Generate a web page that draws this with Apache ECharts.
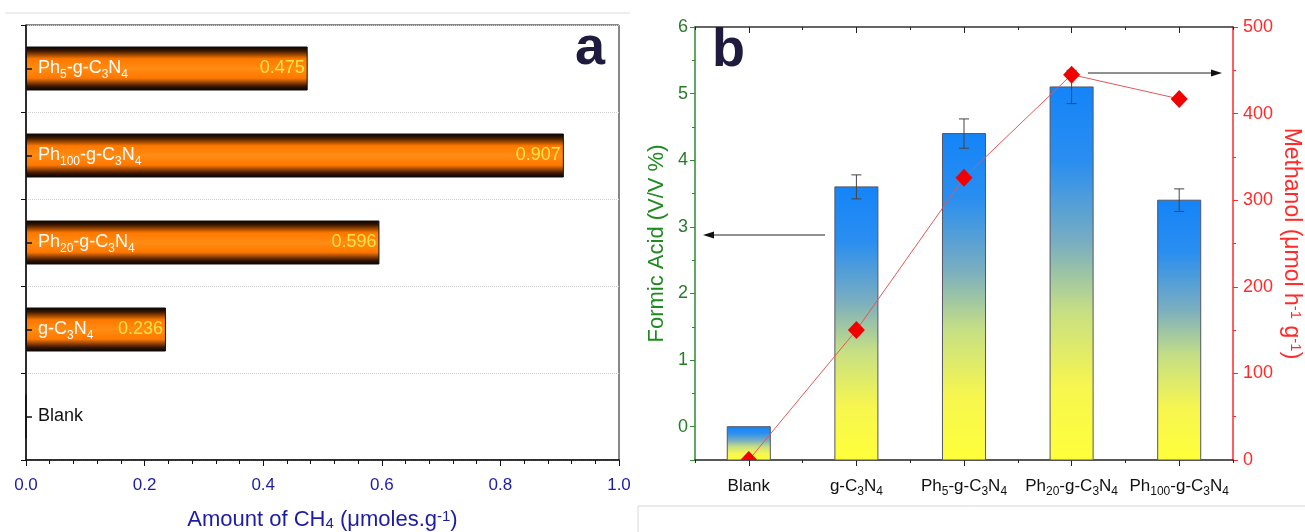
<!DOCTYPE html>
<html><head><meta charset="utf-8">
<script src="https://cdn.jsdelivr.net/npm/echarts@6/dist/echarts.min.js"></script>
<style>html,body{margin:0;padding:0;background:#fff}#c{width:1305px;height:532px}</style>
</head><body><div id="c"></div>
<script>
// ---------- data ----------
const catsA = ['Blank', 'g-C3N4', 'Ph20-g-C3N4', 'Ph100-g-C3N4', 'Ph5-g-C3N4'];
const ch4 = [0, 0.236, 0.596, 0.907, 0.475];
const ch4Range = [0, 1];
const ch4Step = 0.2;

const catsB = ['Blank', 'g-C3N4', 'Ph5-g-C3N4', 'Ph20-g-C3N4', 'Ph100-g-C3N4'];
const formic = [0, 3.6, 4.4, 5.1, 3.4];
const formicErr = [0, 0.18, 0.22, 0.25, 0.17];
const methanol = [0, 150, 326, 445, 417];
const formicRange = [-0.5, 6];
const methanolRange = [0, 500];
const methanolStep = 100;

// ---------- helpers ----------
function richName(name, main, sub) {
  return name.split(/(\d+)/).filter(s => s !== '').map(s =>
    /^\d+$/.test(s) ? '{' + sub + '|' + s + '}' : '{' + main + '|' + s + '}').join('');
}
const FONT = 'Liberation Sans, Arial, Helvetica, sans-serif';
function mainStyle(color, size) { return { color, fontSize: size, fontFamily: FONT, lineHeight: 24 }; }
function subStyle(color, size) { return { color, fontSize: size, fontFamily: FONT, lineHeight: 12, verticalAlign: 'bottom' }; }
function supStyle(color, size) { return { color, fontSize: size, fontFamily: FONT, lineHeight: 12, verticalAlign: 'top' }; }

function arrow(x1, y1, x2, y2) {
  const dir = Math.sign(x2 - x1);
  return [
    { type: 'line', shape: { x1, y1, x2: x2 - dir * 8, y2 }, style: { stroke: '#222', lineWidth: 1 }, z: 50 },
    { type: 'polygon', shape: { points: [[x2, y2], [x2 - dir * 11, y2 - 3.5], [x2 - dir * 11, y2 + 3.5]] }, style: { fill: '#111' }, z: 50 }
  ];
}

const blueText = '#1c1ca6';
const green = '#2e8b2e';
const greenText = '#2a7a2a';
const red = '#ff2a2a';

const orangeGrad = new echarts.graphic.LinearGradient(0, 0, 0, 1, [
  { offset: 0, color: '#000000' },
  { offset: 0.1, color: '#3d1800' },
  { offset: 0.28, color: '#ff7800' },
  { offset: 0.5, color: '#ff8c14' },
  { offset: 0.72, color: '#ff7800' },
  { offset: 0.9, color: '#3d1800' },
  { offset: 1, color: '#000000' }
]);

const chart = echarts.init(document.getElementById('c'));
const option = {
  backgroundColor: '#fff',
  animation: false,
  grid: [
    { left: 26, top: 25, width: 593, height: 435, containLabel: false, outerBoundsMode: 'none', show: true, borderColor: '#111', borderWidth: 1, backgroundColor: 'transparent' },
    { left: 695, top: 27, width: 538, height: 433, containLabel: false, outerBoundsMode: 'none' }
  ],
  xAxis: [
    {
      gridIndex: 0, type: 'value', min: ch4Range[0], max: ch4Range[1], interval: ch4Step,
      axisLine: { show: true, onZero: false, lineStyle: { color: '#111', width: 1.5 } },
      axisTick: { show: true, length: 6, lineStyle: { color: '#111' } },
      minorTick: { show: true, splitNumber: 5, length: 4, lineStyle: { color: '#111' } },
      splitLine: { show: false },
      axisLabel: { color: blueText, fontSize: 17, fontFamily: FONT, margin: 17, formatter: v => v.toFixed(1) },
      name: 'Amount of CH{s|4} (μmoles.g{p|-1})', nameLocation: 'middle', nameGap: 49,
      nameTextStyle: {
        color: blueText, fontSize: 22, fontFamily: FONT,
        rich: { s: subStyle(blueText, 15), p: supStyle(blueText, 15) }
      }
    },
    {
      gridIndex: 1, type: 'category', data: catsB, position: 'bottom',
      axisLine: { show: true, onZero: false, lineStyle: { color: '#222', width: 1.5 } },
      axisTick: { show: true, alignWithLabel: true, length: 6, lineStyle: { color: '#222' } },
      axisLabel: {
        margin: 14, interval: 0,
        formatter: v => richName(v, 'm', 's'),
        rich: { m: mainStyle('#111', 17), s: subStyle('#111', 12) }
      }
    },
    {
      gridIndex: 1, type: 'category', data: catsB, position: 'bottom',
      axisLine: { show: false, onZero: false },
      axisTick: { show: true, length: 3, lineStyle: { color: '#222' } },
      axisLabel: { show: false }
    },
    {
      gridIndex: 1, type: 'category', data: catsB, position: 'top',
      axisLine: { show: true, onZero: false, lineStyle: { color: '#333', width: 1.5 } },
      axisTick: { show: true, alignWithLabel: true, inside: true, length: 6, lineStyle: { color: '#222' } },
      axisLabel: { show: false }
    },
    {
      gridIndex: 1, type: 'category', data: catsB, position: 'top',
      axisLine: { show: false, onZero: false },
      axisTick: { show: true, inside: true, length: 3, lineStyle: { color: '#222' } },
      axisLabel: { show: false }
    }
  ],
  yAxis: [
    {
      gridIndex: 0, type: 'category', data: catsA, position: 'left',
      axisLine: { show: true, onZero: false, lineStyle: { color: '#111', width: 1.5 } },
      axisTick: { show: true, alignWithLabel: true, inside: true, length: 6, lineStyle: { color: '#111', width: 1.5 } },
      splitLine: { show: false },
      axisLabel: {
        inside: true, margin: 12,
        formatter: (v, i) => v === 'Blank' ? richName(v, 'k', 'ks') : richName(v, 'w', 'ws'),
        rich: { w: mainStyle('#fff', 18), ws: subStyle('#fff', 12), k: mainStyle('#111', 18), ks: subStyle('#111', 12) }
      },
      z: 5
    },
    {
      gridIndex: 0, type: 'category', data: catsA, position: 'left',
      axisLine: { show: false, onZero: false },
      axisTick: { show: true, length: 5, lineStyle: { color: '#111' } },
      axisLabel: { show: false },
      splitLine: { show: true, lineStyle: { type: 'dotted', color: '#cfcfcf' } }
    },
    {
      gridIndex: 1, type: 'value', min: formicRange[0], max: formicRange[1], position: 'left',
      axisLine: { show: true, onZero: false, lineStyle: { color: green, width: 1.5 } },
      axisTick: { show: true, length: 5, lineStyle: { color: green } },
      minorTick: { show: true, splitNumber: 2, length: 3, lineStyle: { color: green } },
      splitLine: { show: false },
      axisLabel: { color: greenText, fontSize: 18, fontFamily: FONT, margin: 7, formatter: v => Number.isInteger(v) ? String(v) : '' },
      name: 'Formic Acid (V/V %)', nameLocation: 'middle', nameGap: 27,
      nameTextStyle: { color: '#1f8a1f', fontSize: 22, fontFamily: FONT }
    },
    {
      gridIndex: 1, type: 'value', min: methanolRange[0], max: methanolRange[1], interval: methanolStep, position: 'right',
      axisLine: { show: true, onZero: false, lineStyle: { color: red, width: 1.5 } },
      axisTick: { show: true, length: 5, lineStyle: { color: red } },
      minorTick: { show: true, splitNumber: 2, length: 3, lineStyle: { color: red } },
      splitLine: { show: false },
      axisLabel: { color: red, fontSize: 18, fontFamily: FONT, margin: 10 },
      name: 'Methanol (μmol h{p|-1} g{p|-1})', nameLocation: 'middle', nameGap: 47, nameRotate: -90,
      nameTextStyle: { color: red, fontSize: 23, fontFamily: FONT, rich: { p: supStyle(red, 15) } }
    }
  ],
  series: [
    {
      type: 'bar', xAxisIndex: 0, yAxisIndex: 0, data: ch4, barWidth: 44,
      itemStyle: { color: orangeGrad, borderColor: '#111', borderWidth: 1 },
      label: {
        show: true, position: 'insideRight', distance: 3, color: '#ffe444', fontSize: 18, fontFamily: FONT,
        formatter: p => p.value ? String(p.value) : ''
      },
      z: 3
    },
    {
      type: 'custom', xAxisIndex: 1, yAxisIndex: 2,
      data: formic.map((v, i) => [i, v, formicErr[i]]),
      encode: { x: 0, y: 1 },
      renderItem: function (params, api) {
        const x = api.value(0), v = api.value(1), e = api.value(2);
        const top = api.coord([x, v]);
        const base = api.coord([x, formicRange[0]]);
        const bw = api.size([1, 0])[0] * 0.4;
        const children = [{
          type: 'rect',
          shape: { x: top[0] - bw / 2, y: top[1], width: bw, height: base[1] - top[1] },
          style: {
            fill: new echarts.graphic.LinearGradient(0, 0, 0, 1, [
              { offset: 0, color: '#1484f8' },
              { offset: 0.2, color: '#2a8ef0' },
              { offset: 0.42, color: '#7aaec0' },
              { offset: 0.6, color: '#c6df84' },
              { offset: 0.8, color: '#f6f650' },
              { offset: 1, color: '#ffff3a' }
            ]),
            stroke: '#556', lineWidth: 1
          }
        }];
        if (e > 0) {
          const hi = api.coord([x, v + e]), lo = api.coord([x, v - e]);
          const cx = top[0], c = 5;
          const st = { stroke: '#444', lineWidth: 1 };
          children.push({ type: 'line', shape: { x1: cx, y1: hi[1], x2: cx, y2: lo[1] }, style: st });
          children.push({ type: 'line', shape: { x1: cx - c, y1: hi[1], x2: cx + c, y2: hi[1] }, style: st });
          children.push({ type: 'line', shape: { x1: cx - c, y1: lo[1], x2: cx + c, y2: lo[1] }, style: st });
        }
        return { type: 'group', children };
      },
      z: 3
    },
    {
      type: 'line', xAxisIndex: 1, yAxisIndex: 3, data: methanol,
      showSymbol: false, symbol: 'none',
      lineStyle: { color: '#e05858', width: 1 },
      z: 10
    },
    {
      type: 'custom', xAxisIndex: 1, yAxisIndex: 3, clip: true,
      data: methanol.map((v, i) => [i, v]),
      encode: { x: 0, y: 1 },
      renderItem: function (params, api) {
        const p = api.coord([api.value(0), api.value(1)]);
        const hw = 8.5, hh = 9;
        return {
          type: 'polygon',
          shape: { points: [[p[0], p[1] - hh], [p[0] + hw, p[1]], [p[0], p[1] + hh], [p[0] - hw, p[1]]] },
          style: { fill: '#f20000' }
        };
      },
      z: 11
    }
  ],
  graphic: [
    { type: 'text', left: 575, top: 22, style: { text: 'a', font: 'bold 54px ' + FONT, fill: '#1e1b3e' }, z: 50 },
    { type: 'text', left: 712, top: 24, style: { text: 'b', font: 'bold 54px ' + FONT, fill: '#1e1b3e' }, z: 50 },
    { type: 'line', shape: { x1: 5, y1: 13, x2: 630, y2: 13 }, style: { stroke: '#dcdcdc', lineWidth: 1 } },
    { type: 'line', shape: { x1: 638, y1: 506, x2: 1305, y2: 506 }, style: { stroke: '#d8d8d8', lineWidth: 1 } },
    { type: 'line', shape: { x1: 638, y1: 506, x2: 638, y2: 532 }, style: { stroke: '#d8d8d8', lineWidth: 1 } },
    ...arrow(825, 235, 703, 235),
    ...arrow(1088, 73, 1222, 73)
  ]
};
chart.setOption(option);
</script>
</body></html>
